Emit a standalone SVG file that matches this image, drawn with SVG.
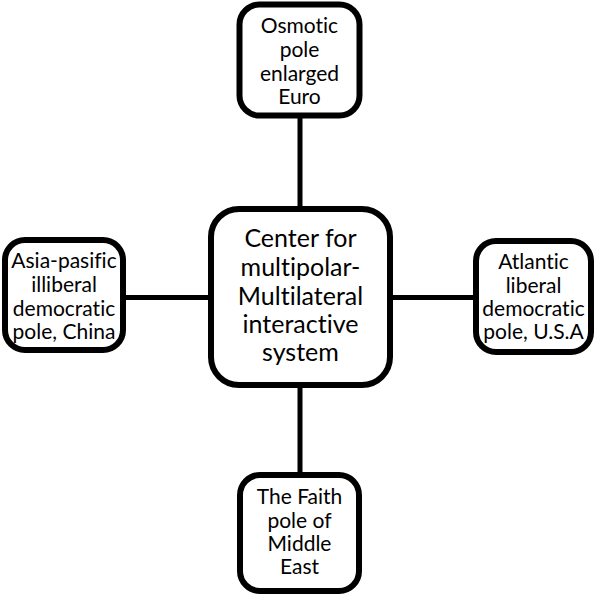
<svg xmlns="http://www.w3.org/2000/svg" width="595" height="596" viewBox="0 0 595 596">
<style>
.box{fill:#fff;stroke:#000;stroke-width:6}
.con{stroke:#000;stroke-width:5;fill:none}
text{font-family:Lato,"Open Sans",sans-serif;fill:#000;text-anchor:middle;font-variant-ligatures:none}
.s{font-size:21px}
.c{font-size:25px}
</style>
<rect width="595" height="596" fill="#fff"/>
<g id="connectors">
<line class="con" x1="300" y1="114" x2="300" y2="210"/>
<line class="con" x1="300" y1="386" x2="300" y2="474"/>
<line class="con" x1="122" y1="297.5" x2="211" y2="297.5"/>
<line class="con" x1="390" y1="297.5" x2="476" y2="297.5"/>
</g>
<g id="top">
<rect class="box" x="239.5" y="4.5" width="120" height="111" rx="20"/>
<text class="s" x="299.5" y="33">Osmotic</text>
<text class="s" x="299.5" y="57">pole</text>
<text class="s" x="299.5" y="81">enlarged</text>
<text class="s" x="299.5" y="104">Euro</text>
</g>
<g id="left">
<rect class="box" x="5" y="240" width="118" height="110" rx="20"/>
<text class="s" x="64" y="268">Asia-pasific</text>
<text class="s" x="64" y="292">illiberal</text>
<text class="s" x="64" y="316">democratic</text>
<text class="s" x="64" y="339">pole, China</text>
</g>
<g id="center">
<rect class="box" x="211" y="209" width="179" height="176" rx="28"/>
<text class="c" x="300.5" y="247">Center for</text>
<text class="c" x="300.5" y="276">multipolar-</text>
<text class="c" x="300.5" y="305">Multilateral</text>
<text class="c" x="300.5" y="333">interactive</text>
<text class="c" x="300.5" y="361">system</text>
</g>
<g id="right">
<rect class="box" x="476" y="241" width="115" height="111" rx="20"/>
<text class="s" x="533.5" y="269">Atlantic</text>
<text class="s" x="533.5" y="293">liberal</text>
<text class="s" x="533.5" y="316">democratic</text>
<text class="s" x="533.5" y="339">pole, U.S.A</text>
</g>
<g id="bottom">
<rect class="box" x="240" y="475" width="119" height="116" rx="20"/>
<text class="s" x="299.5" y="504">The Faith</text>
<text class="s" x="299.5" y="528">pole of</text>
<text class="s" x="299.5" y="551">Middle</text>
<text class="s" x="299.5" y="574">East</text>
</g>
</svg>
